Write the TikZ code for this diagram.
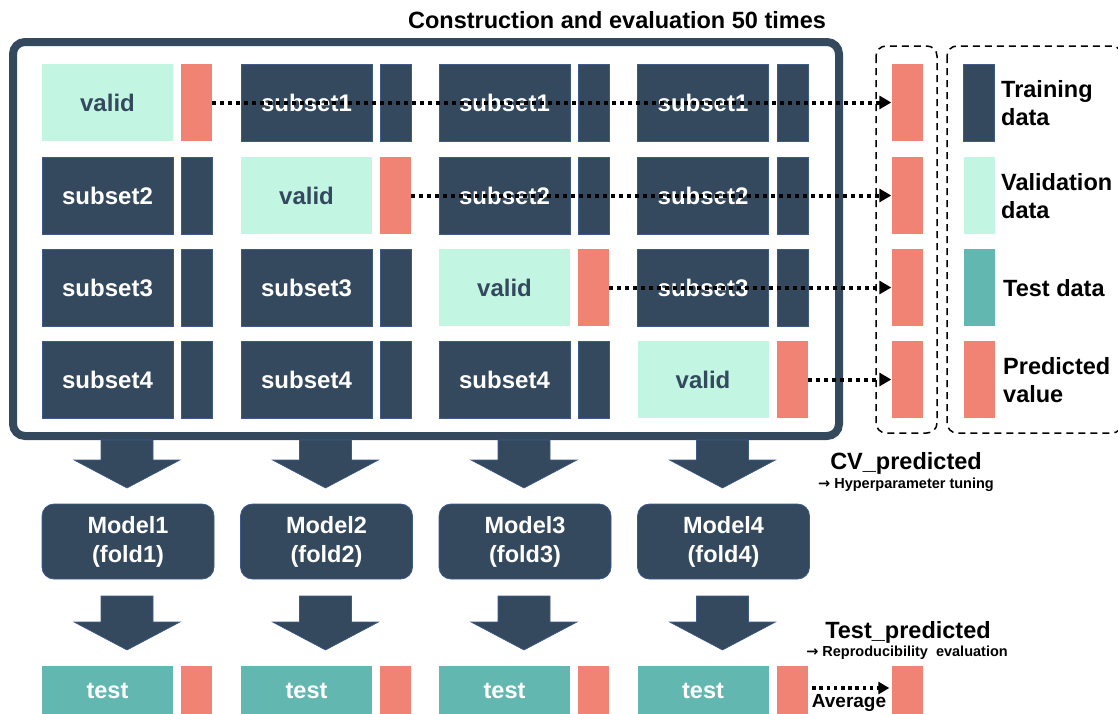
\documentclass[tikz,border=0pt]{standalone}
\usepackage{fontspec}
\setmainfont{Liberation Sans}
\newfontfamily\arrfont{DejaVu Sans}
\usetikzlibrary{arrows.meta,calc}
\definecolor{navy}{HTML}{34495E}
\definecolor{mint}{HTML}{C3F5E3}
\definecolor{salmon}{HTML}{F08373}
\definecolor{teal}{HTML}{62B8B0}
\definecolor{edgeblue}{HTML}{3D5A8C}
\tikzset{
  big/.style={rectangle, inner sep=0, minimum width=131, minimum height=77, font=\fontsize{24}{28}\selectfont\bfseries},
  small/.style={rectangle, inner sep=0, minimum width=31, minimum height=77},
  trainbox/.style={big, fill=navy, draw=edgeblue, line width=0.8, text=white},
  trainsmall/.style={small, fill=navy, draw=edgeblue, line width=0.8},
  validbox/.style={big, fill=mint, text=navy},
  predsmall/.style={small, fill=salmon},
  modelbox/.style={rectangle, rounded corners=12, fill=navy, draw=edgeblue, line width=0.8, minimum width=172, minimum height=75, inner sep=0, text=white, align=center, font=\fontsize{23.5}{29}\selectfont\bfseries},
  testbox/.style={rectangle, inner sep=0, minimum width=131, minimum height=50, fill=teal, text=white, font=\fontsize{23.5}{28}\selectfont\bfseries},
  testpred/.style={rectangle, inner sep=0, minimum width=31, minimum height=50, fill=salmon},
  dotarrow/.style={line width=4, dash pattern=on 4 off 4, -{Triangle[length=12,width=13]}},
  bigarrow/.style={fill=navy, draw=edgeblue, line width=0.6},
  legtext/.style={anchor=west, align=left, inner sep=0, font=\fontsize{23.5}{28}\selectfont\bfseries},
  dashbox/.style={dashed, line width=1.5, dash pattern=on 7 off 5, rounded corners=10},
}
\begin{document}
\begin{tikzpicture}[x=1pt,y=-1pt]
\useasboundingbox (0,0) rectangle (1118,713);

% title
\node[font=\fontsize{23.5}{28}\selectfont\bfseries] (title) at (617,20) {Construction and evaluation 50 times};

% outer frame
\draw[navy, line width=8, rounded corners=12] (13,42) rectangle (839,436);

% column 1
\node[validbox] (b11) at (107.5,102.5) {valid};
\node[predsmall] (s11) at (196.5,102.5) {};
\node[trainbox] (b12) at (107.5,195.5) {subset2};
\node[trainsmall] (s12) at (196.5,195.5) {};
\node[trainbox] (b13) at (107.5,287.5) {subset3};
\node[trainsmall] (s13) at (196.5,287.5) {};
\node[trainbox] (b14) at (107.5,379.5) {subset4};
\node[trainsmall] (s14) at (196.5,379.5) {};
% column 2
\node[trainbox] (b21) at (306.5,102.5) {subset1};
\node[trainsmall] (s21) at (395.5,102.5) {};
\node[validbox] (b22) at (306.5,195.5) {valid};
\node[predsmall] (s22) at (395.5,195.5) {};
\node[trainbox] (b23) at (306.5,287.5) {subset3};
\node[trainsmall] (s23) at (395.5,287.5) {};
\node[trainbox] (b24) at (306.5,379.5) {subset4};
\node[trainsmall] (s24) at (395.5,379.5) {};
% column 3
\node[trainbox] (b31) at (504.5,102.5) {subset1};
\node[trainsmall] (s31) at (593.5,102.5) {};
\node[trainbox] (b32) at (504.5,195.5) {subset2};
\node[trainsmall] (s32) at (593.5,195.5) {};
\node[validbox] (b33) at (504.5,287.5) {valid};
\node[predsmall] (s33) at (593.5,287.5) {};
\node[trainbox] (b34) at (504.5,379.5) {subset4};
\node[trainsmall] (s34) at (593.5,379.5) {};
% column 4
\node[trainbox] (b41) at (703,102.5) {subset1};
\node[trainsmall] (s41) at (792.5,102.5) {};
\node[trainbox] (b42) at (703,195.5) {subset2};
\node[trainsmall] (s42) at (792.5,195.5) {};
\node[trainbox] (b43) at (703,287.5) {subset3};
\node[trainsmall] (s43) at (792.5,287.5) {};
\node[validbox] (b44) at (703,379.5) {valid};
\node[predsmall] (s44) at (792.5,379.5) {};

% CV predicted column
\draw[dashbox] (876,46) rectangle (937,433);
\node[predsmall] (p1) at (907,102.5) {};
\node[predsmall] (p2) at (907,195.5) {};
\node[predsmall] (p3) at (907,287.5) {};
\node[predsmall] (p4) at (907,379.5) {};

% legend
\draw[dashbox] (947,46) rectangle (1122,433);
\node[small, fill=navy, draw=edgeblue, line width=0.8] (l1) at (979,102.5) {};
\node[small, fill=mint] (l2) at (979,195.5) {};
\node[small, fill=teal] (l3) at (979,287.5) {};
\node[small, fill=salmon] (l4) at (979,379.5) {};
\node[legtext] (lt1) at (1001,103) {Training\\data};
\node[legtext] (lt2) at (1001,196) {Validation\\data};
\node[legtext] (lt3) at (1003,288) {Test data};
\node[legtext] (lt4) at (1003,380) {Predicted\\value};

% dotted arrows to CV predictions
\draw[dotarrow] (s11.east) -- (p1.west);
\draw[dotarrow] (s22.east) -- (p2.west);
\draw[dotarrow] (s33.east) -- (p3.west);
\draw[dotarrow] (s44.east) -- (p4.west);

% big down arrows
\foreach \cx in {127,325.5,524,722.5}{
  \draw[bigarrow] (\cx-26,440) -- (\cx+26,440) -- (\cx+26,460) -- (\cx+53,460) -- (\cx,488) -- (\cx-53,460) -- (\cx-26,460) -- cycle;
  \draw[bigarrow] (\cx-26,596) -- (\cx+26,596) -- (\cx+26,622) -- (\cx+53,622) -- (\cx,650) -- (\cx-53,622) -- (\cx-26,622) -- cycle;
}

% models
\node[modelbox] (m1) at (128,541.5) {Model1\\(fold1)};
\node[modelbox] (m2) at (326.5,541.5) {Model2\\(fold2)};
\node[modelbox] (m3) at (525,541.5) {Model3\\(fold3)};
\node[modelbox] (m4) at (723.5,541.5) {Model4\\(fold4)};

% test row
\node[testbox] (t1) at (107.5,691) {test};
\node[testpred] (t1r) at (196.5,691) {};
\node[testbox] (t2) at (306.5,691) {test};
\node[testpred] (t2r) at (395.5,691) {};
\node[testbox] (t3) at (504.5,691) {test};
\node[testpred] (t3r) at (593.5,691) {};
\node[testbox] (t4) at (703,691) {test};
\node[testpred] (t4r) at (792.5,691) {};
\node[testpred] (avg) at (907,691) {};
\draw[dotarrow, line width=3.6, dash pattern=on 3.6 off 3.6, -{Triangle[length=11,width=12]}] ($(t4r.east)+(4,-3)$) -- ($(avg.west)+(-2,-3)$);
\node[font=\fontsize{19}{22}\selectfont\bfseries, inner sep=0] (avglbl) at (849,703) {Average};

% annotations
\node[font=\fontsize{23.5}{28}\selectfont\bfseries, inner sep=0] (cvp) at (906,463) {CV\_predicted};
\node[font=\fontsize{14.5}{16}\selectfont\bfseries, inner sep=0] (cvn) at (906,485) {{\arrfont →} Hyperparameter tuning};
\node[font=\fontsize{23.5}{28}\selectfont\bfseries, inner sep=0] (tp) at (908,632) {Test\_predicted};
\node[font=\fontsize{14.5}{16}\selectfont\bfseries, inner sep=0] (tpn) at (907,653) {{\arrfont →} Reproducibility\ \ evaluation};
\end{tikzpicture}
\end{document}
